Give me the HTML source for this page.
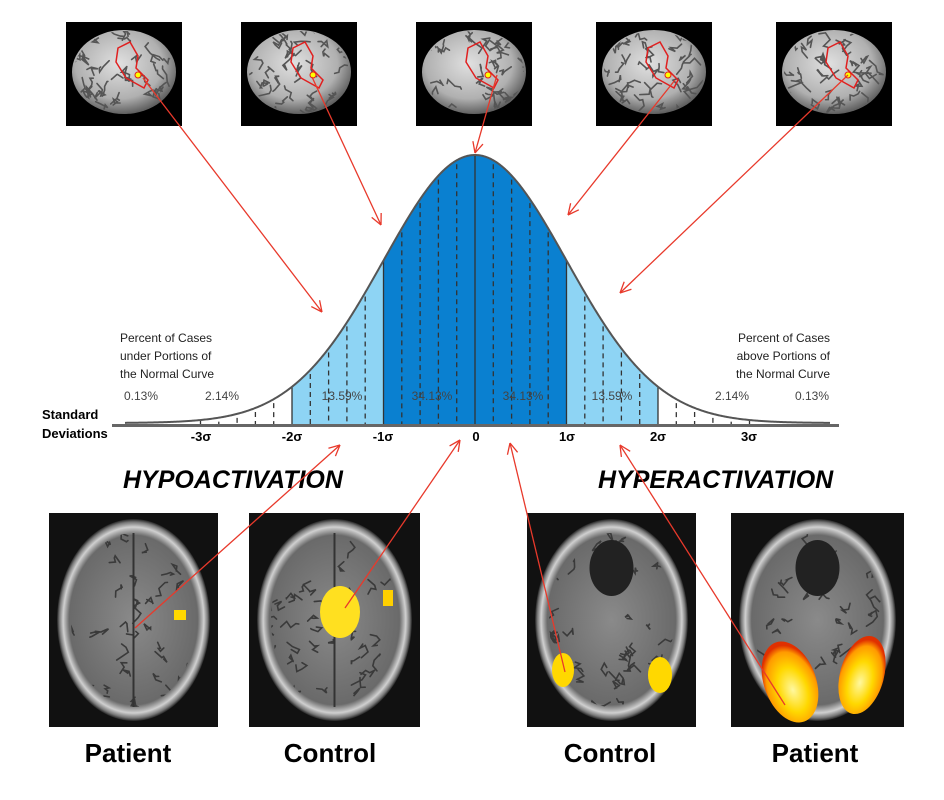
<!DOCTYPE html>
<html><head><meta charset="utf-8"><style>
body{margin:0;background:#fff;width:944px;height:800px;overflow:hidden}
svg{display:block}
text{font-family:"Liberation Sans",sans-serif}
</style></head><body>
<svg id="s" width="944" height="800" xmlns="http://www.w3.org/2000/svg">
<defs>
<radialGradient id="br" cx="45%" cy="40%" r="60%"><stop offset="0" stop-color="#e0e0e0"/><stop offset="0.7" stop-color="#b0b0b0"/><stop offset="1" stop-color="#606060"/></radialGradient>
<radialGradient id="mr" cx="50%" cy="50%" r="50%"><stop offset="0" stop-color="#8a8a8a"/><stop offset="0.84" stop-color="#6a6a6a"/><stop offset="0.92" stop-color="#d0d0d0"/><stop offset="0.97" stop-color="#777"/><stop offset="1" stop-color="#222"/></radialGradient>
<radialGradient id="hot" cx="50%" cy="60%" r="55%"><stop offset="0" stop-color="#fff8a0"/><stop offset="0.5" stop-color="#ffd800"/><stop offset="0.85" stop-color="#ff9a00"/><stop offset="1" stop-color="#e03000"/></radialGradient>
</defs>
<g id="curve"></g>
<g id="brains"></g>
<text x="42" y="419" font-size="13" font-weight="bold">Standard</text>
<text x="42" y="438" font-size="13" font-weight="bold">Deviations</text>
<g font-size="12" fill="#222">
<text x="120" y="342">Percent of Cases</text><text x="120" y="360">under Portions of</text><text x="120" y="378">the Normal Curve</text>
<text x="830" y="342" text-anchor="end">Percent of Cases</text><text x="830" y="360" text-anchor="end">above Portions of</text><text x="830" y="378" text-anchor="end">the Normal Curve</text>
</g>
<g font-size="12" fill="#444" text-anchor="middle">
<text x="141" y="400">0.13%</text><text x="222" y="400">2.14%</text><text x="342" y="400">13.59%</text><text x="432" y="400">34.13%</text><text x="523" y="400">34.13%</text><text x="612" y="400">13.59%</text><text x="732" y="400">2.14%</text><text x="812" y="400">0.13%</text>
</g>
<g font-size="13" font-weight="bold" text-anchor="middle">
<text x="201" y="441">-3σ</text><text x="292" y="441">-2σ</text><text x="383" y="441">-1σ</text><text x="476" y="441">0</text><text x="567" y="441">1σ</text><text x="658" y="441">2σ</text><text x="749" y="441">3σ</text>
</g>
<g font-size="25" font-weight="bold" font-style="italic">
<text x="123" y="488">HYPOACTIVATION</text><text x="598" y="488">HYPERACTIVATION</text>
</g>
<g font-size="26" font-weight="bold" text-anchor="middle">
<text x="128" y="762">Patient</text><text x="330" y="762">Control</text><text x="610" y="762">Control</text><text x="815" y="762">Patient</text>
</g>
<g id="arrows" stroke="#e8392b" stroke-width="1.3" fill="none"></g>
</svg>
<script>
const NS="http://www.w3.org/2000/svg";
function el(p,t,a){const e=document.createElementNS(NS,t);for(const k in a)e.setAttribute(k,a[k]);p.appendChild(e);return e;}
let seed=7;const rnd=()=>{seed=(seed*9301+49297)%233280;return seed/233280;};
const cx=475,sg=91.5,by=425,H=268;
const f=x=>by-2-H*Math.exp(-Math.pow((x-cx)/sg,2)/2);
const c=document.getElementById('curve');
function area(x0,x1,col){let d=`M${x0},${by}`;for(let x=x0;x<=x1;x+=1)d+=`L${x},${f(x)}`;d+=`L${x1},${f(x1)}L${x1},${by}Z`;el(c,'path',{d,fill:col});}
area(cx-2*sg,cx-sg,'#8ed4f4');area(cx+sg,cx+2*sg,'#8ed4f4');area(cx-sg,cx+sg,'#0a80d0');
for(let i=-15;i<=15;i++){if(i%5==0)continue;const x=cx+i*sg/5;el(c,'line',{x1:x,y1:f(x)+4,x2:x,y2:by,stroke:'#333','stroke-width':1.3,'stroke-dasharray':'5,4'});}
for(let i=-3;i<=3;i++){const x=cx+i*sg;el(c,'line',{x1:x,y1:f(x),x2:x,y2:by,stroke:'#333','stroke-width':1.3});}
let d='';for(let x=125;x<=830;x++)d+=(x==125?'M':'L')+x+','+f(x);
el(c,'path',{d,fill:'none',stroke:'#555','stroke-width':2});
el(c,'rect',{x:112,y:424,width:727,height:3,fill:'#666'});
const b=document.getElementById('brains');
function squig(g,x0,y0,w,h,n,col,sw){for(let k=0;k<n;k++){let x=x0+rnd()*w,y=y0+rnd()*h;let p=`M${x},${y}`;for(let j=0;j<4;j++){x+=(rnd()-0.5)*14;y+=(rnd()-0.5)*14;p+=`L${x},${y}`;}el(g,'path',{d:p,fill:'none',stroke:col,'stroke-width':sw,'stroke-linecap':'round'});}}
[66,241,416,596,776].forEach((x,i)=>{el(b,'rect',{x,y:22,width:116,height:104,fill:'#000'});
const cp=el(b,'clipPath',{id:'cb'+i});el(cp,'ellipse',{cx:x+58,cy:72,rx:50,ry:41});
el(b,'ellipse',{cx:x+58,cy:72,rx:52,ry:42,fill:'url(#br)'});
const g=el(b,'g',{'clip-path':`url(#cb${i})`});squig(g,x+8,y=32,100,82,40,'#555',1.6);
el(b,'path',{d:`M${x+52},${48}l12,-6l8,14l-2,12l12,12l-4,8l-18,-10l-10,-16z`,fill:'none',stroke:'#e02020','stroke-width':1.5});
el(b,'circle',{cx:x+72,cy:75,r:3,fill:'#ff0',stroke:'#e02020'});});
[[49,513,169,214],[249,513,171,214],[527,513,169,214],[731,513,173,214]].forEach(([x,y,w,h],i)=>{el(b,'rect',{x,y,width:w,height:h,fill:'#111'});
el(b,'ellipse',{cx:x+w/2,cy:y+h/2,rx:w/2-8,ry:h/2-6,fill:'url(#mr)'});
const cp=el(b,'clipPath',{id:'cm'+i});el(cp,'ellipse',{cx:x+w/2,cy:y+h/2,rx:w/2-22,ry:h/2-20});
const g=el(b,'g',{'clip-path':`url(#cm${i})`});squig(g,x+15,y+15,w-30,h-30,45,'#3a3a3a',1.6);
if(i<2)el(g,'line',{x1:x+w/2,y1:y+10,x2:x+w/2,y2:y+h-10,stroke:'#333','stroke-width':2});
else el(g,'ellipse',{cx:x+w/2,cy:y+55,rx:22,ry:28,fill:'#222'});});
el(b,'rect',{x:174,y:610,width:12,height:10,fill:'#ffd800'});
el(b,'ellipse',{cx:340,cy:612,rx:20,ry:26,fill:'#ffe020'});
el(b,'rect',{x:383,y:590,width:10,height:16,fill:'#ffd000'});
el(b,'ellipse',{cx:563,cy:670,rx:11,ry:17,fill:'#ffd800'});
el(b,'ellipse',{cx:660,cy:675,rx:12,ry:18,fill:'#ffd800'});
el(b,'ellipse',{cx:790,cy:682,rx:26,ry:42,fill:'url(#hot)',transform:'rotate(-20 790 682)'});
el(b,'ellipse',{cx:862,cy:675,rx:22,ry:40,fill:'url(#hot)',transform:'rotate(15 862 675)'});
const A=document.getElementById('arrows');
[[143,78,322,312],[312,77,381,225],[497,75,475,153],[675,80,568,215],[848,75,620,293],
[135,628,340,445],[345,608,460,440],[565,672,510,443],[785,705,620,445]].forEach(([x1,y1,x2,y2])=>{
el(A,'line',{x1,y1,x2,y2});const a=Math.atan2(y2-y1,x2-x1),L=12;
for(const s of[-0.45,0.45])el(A,'line',{x1:x2,y1:y2,x2:x2-L*Math.cos(a+s),y2:y2-L*Math.sin(a+s)});});
</script>
</body></html>
